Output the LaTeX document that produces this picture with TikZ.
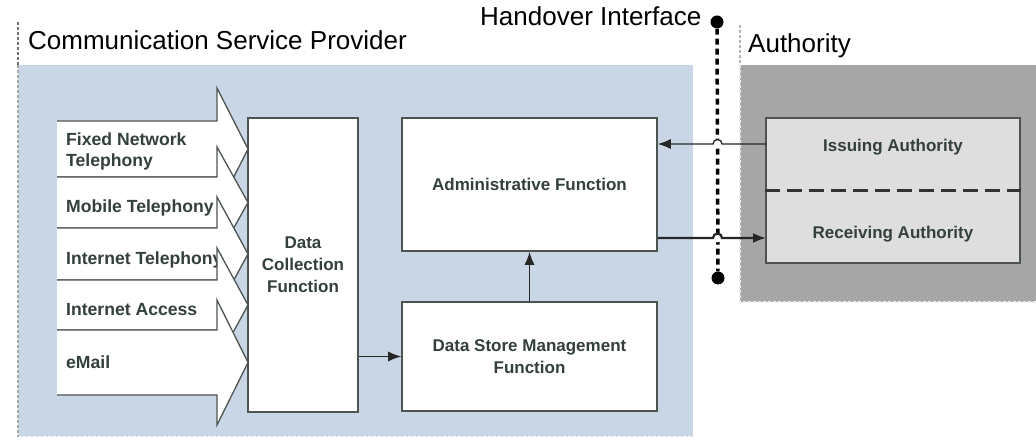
\documentclass[tikz,border=0pt]{standalone}
\usepackage{fontspec}
\setmainfont{Liberation Sans}
\usetikzlibrary{arrows.meta,calc}
\definecolor{cspblue}{RGB}{201,214,229}
\definecolor{authgrey}{RGB}{166,166,166}
\definecolor{authfill}{RGB}{222,222,222}
\definecolor{edge}{RGB}{78,84,80}
\definecolor{ink}{RGB}{52,64,58}
\begin{document}
\begin{tikzpicture}[x=1pt,y=-1pt,
  fnbox/.style={draw=edge, line width=1.6pt, fill=white, inner sep=0pt,
    font=\fontsize{17}{22}\selectfont\bfseries, text=ink, align=center},
  feed/.style={fill=white, draw=edge, line width=1.3pt, line join=miter},
  feedtxt/.style={anchor=west, inner sep=0pt, align=left,
    font=\fontsize{17.6}{21}\selectfont\bfseries, text=ink},
  conn/.style={draw=black!85, line width=1.3pt, -{Latex[length=13pt,width=10pt]}},
  heading/.style={anchor=base west, inner sep=0pt, font=\fontsize{26}{30}\selectfont},
  sep/.style={dash pattern=on 3pt off 2pt, line width=1.2pt},
  hdot/.style={circle, fill=black, minimum size=13pt, inner sep=0pt},
]
\useasboundingbox (0,0) rectangle (1036,443);

% provider and authority domains
\fill[cspblue] (18,65) rectangle (693,437);
\draw[sep, white] (18,437) -- (693,437);
\draw[sep, gray!90!black] (18,22) -- (18,65);
\draw[sep, gray!70] (18,65) -- (18,437);
\fill[authgrey] (740,65) rectangle (1036,302);
\draw[sep, gray!60] (740,25) -- (740,65);
\draw[sep, white!85!gray] (740,65) -- (740,302) -- (1036,302);

\node[heading] (csp) at (28,50) {Communication Service Provider};
\node[heading] (auth) at (748,53) {Authority};
\node[heading] (hi) at (480,26) {Handover Interface};

% feed arrows into data collection
\draw[feed] (57,121) -- (217,121) -- (217,88) -- (248,149) -- (217,210) -- (217,177) -- (57,177);
\node[feedtxt] (fixed) at (66,151) {Fixed Network\\Telephony};
\draw[feed] (57,177) -- (217,177) -- (217,147) -- (248,202.5) -- (217,258) -- (217,228) -- (57,228);
\node[feedtxt] (mobile) at (66,208) {Mobile Telephony};
\draw[feed] (57,228) -- (217,228) -- (217,197) -- (248,254) -- (217,311) -- (217,280) -- (57,280);
\node[feedtxt] (inettel) at (66,260) {Internet Telephony};
\draw[feed] (57,280) -- (217,280) -- (217,248) -- (248,305) -- (217,362) -- (217,330) -- (57,330);
\node[feedtxt] (inetacc) at (66,310) {Internet Access};
\draw[feed] (57,330) -- (217,330) -- (217,300) -- (248,362.5) -- (217,425) -- (217,395) -- (57,395);
\node[feedtxt] (email) at (66,362) {eMail};

% functions
\node[fnbox, minimum width=110pt, minimum height=294pt] (dcf) at (303,265) {Data\\Collection\\Function};
\node[fnbox, minimum width=255pt, minimum height=133pt] (af) at (529.5,184.5) {Administrative Function};
\node[fnbox, minimum width=255pt, minimum height=109pt] (dsm) at (529.5,356.5) {Data Store Management\\Function};

% authority box
\node[draw=edge, line width=1.6pt, fill=authfill, minimum width=254pt, minimum height=145pt] (ab) at (893,190.5) {};
\draw[dash pattern=on 15pt off 7pt, line width=2.6pt, black!80] (ab.west) -- (ab.east);
\node[font=\fontsize{17}{21}\selectfont\bfseries, text=ink] (iss) at (893,147) {Issuing Authority};
\node[font=\fontsize{17}{21}\selectfont\bfseries, text=ink] (rcv) at (893,234) {Receiving Authority};

% handover interface
\node[hdot] (htop) at (717,22) {};
\node[hdot] (hbot) at (718,278) {};
\draw[dash pattern=on 6pt off 4pt, line width=3.5pt] (htop) -- (hbot);

% internal flows
\draw[conn] (dcf.east |- dsm.west) -- (dsm.west);
\draw[conn] (dsm.north) -- (af.south);

% flows across the handover interface
\coordinate (inA) at (766,144);
\coordinate (outA) at (766,238);
\fill[white] (717.5,144) circle (4.5pt);
\fill[white] (717.5,238) circle (4.5pt);
\draw[conn] (inA) -- (722,144) arc[start angle=0, end angle=180, radius=4.5pt] -- (af.east |- inA);
\draw[conn, line width=2.2pt] (af.east |- outA) -- (713,238) arc[start angle=180, end angle=0, radius=4.5pt] -- (outA);
\end{tikzpicture}
\end{document}
